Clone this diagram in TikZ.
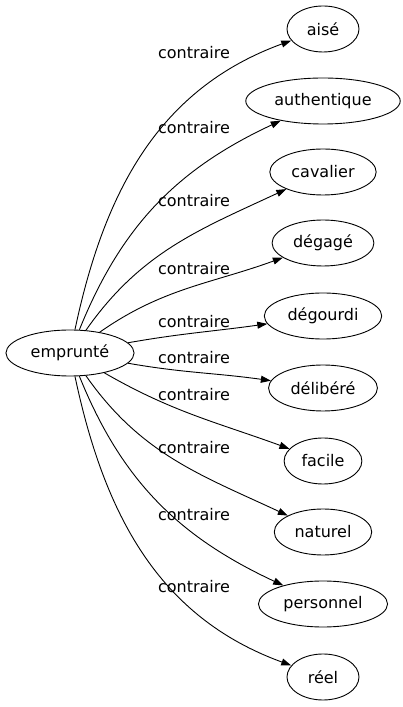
\documentclass[tikz,border=0pt]{standalone}
\usepackage{fontspec}
\setmainfont{DejaVu Sans}
\usepackage{tikz}
\usetikzlibrary{arrows.meta,shapes.geometric}

\tikzset{
  word/.style={draw,ellipse,line width=0.9pt,minimum width=72pt,minimum height=46pt,inner xsep=6pt},
  link/.style={line width=0.9pt,-{Triangle[length=10pt,width=7pt]}},
  lbl/.style={inner sep=1pt}
}

\begin{document}
\begin{tikzpicture}[x=1pt,y=1pt,every node/.style={font=\fontsize{16}{19}\selectfont}]
    \useasboundingbox (0,0) rectangle (403,707);
    \node[word] (emp) at (70,354) {emprunté};
    \foreach \n/\t/\y/\o/\i/\ly in {aise/aisé/678/78/200/654,
                                    auth/authentique/606/68/205/579,
                                    cava/cavalier/535/55/205/506,
                                    dega/dégagé/464/35/200/438,
                                    dego/dégourdi/391/10/188/385,
                                    deli/délibéré/319/-10/172/349,
                                    faci/facile/246/-30/160/312,
                                    natu/naturel/175/-55/155/259,
                                    pers/personnel/103/-68/155/192,
                                    reel/réel/30/-78/160/120}{
        \node[word] (\n) at (323,\y) {\t};
        \draw[link] (emp) to[out=\o,in=\i] (\n);
        \node[lbl] (l\n) at (194,\ly) {contraire};
    }
\end{tikzpicture}
\end{document}
